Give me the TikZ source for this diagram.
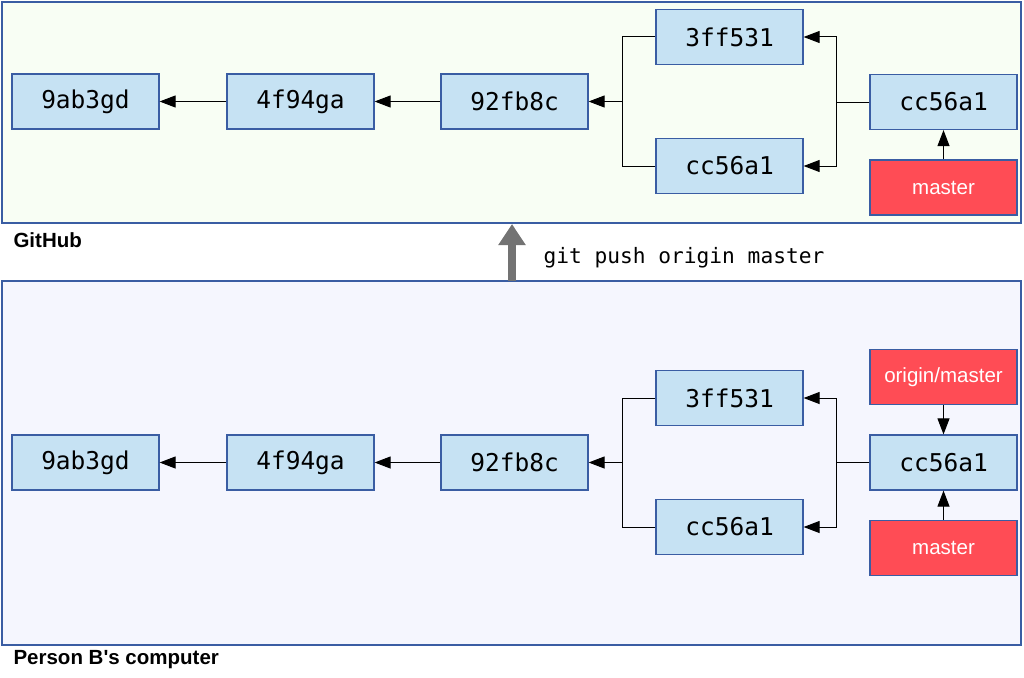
\documentclass[tikz,border=0pt]{standalone}
\usepackage{fontspec}
\setmainfont{Liberation Sans}
\newfontfamily\commitfont{DejaVu Sans Mono}
\usetikzlibrary{arrows.meta}
\definecolor{frameblue}{HTML}{3A5DA3}
\definecolor{commitfill}{HTML}{C6E2F3}
\definecolor{refred}{HTML}{FF4C55}
\definecolor{hubfill}{HTML}{F8FEF4}
\definecolor{pcfill}{HTML}{F5F6FE}
\begin{document}
\begin{tikzpicture}[x=1pt,y=-1pt,
    commit/.style={draw=frameblue,line width=1.2pt,fill=commitfill,minimum width=147pt,
        minimum height=55pt,inner sep=0pt,font=\commitfont\fontsize{24.5}{28}\selectfont},
    branchref/.style={draw=frameblue,line width=1.2pt,fill=refred,text=white,minimum width=147pt,
        minimum height=55pt,inner sep=0pt,font=\fontsize{20.5}{24}\selectfont},
    area/.style={draw=frameblue,line width=1.8pt,inner sep=0pt},
    areaname/.style={anchor=west,font=\bfseries\fontsize{20.5}{24}\selectfont},
    link/.style={line width=1pt,-{Triangle[length=16pt,width=12pt]}}]
    \useasboundingbox (0,0) rectangle (1024,677);
    % frames
    \node[area,fill=hubfill,minimum width=1019pt,minimum height=221pt] (hub) at (511.5,112.5) {};
    \node[area,fill=pcfill,minimum width=1019pt,minimum height=364pt] (pc) at (511.5,463) {};
    \node[areaname] (hubname) at (10,240) {GitHub};
    \node[areaname] (pcname) at (10,660) {Person B\textquotesingle s computer};
    % GitHub commits
    \node[commit] (h9ab) at (85.5,101.5) {9ab3gd};
    \node[commit] (h4f9) at (300.5,101.5) {4f94ga};
    \node[commit] (h92f) at (514.5,101.5) {92fb8c};
    \node[commit] (h3ff) at (729.5,37) {3ff531};
    \node[commit] (hcc) at (729.5,166) {cc56a1};
    \node[commit] (hhead) at (943.5,102) {cc56a1};
    \node[branchref] (hmaster) at (943.5,187.5) {master};
    \coordinate (hjl) at (622,101.5);
    \coordinate (hjr) at (836,102);
    \draw[link] (h4f9) -- (h9ab);
    \draw[link] (h92f) -- (h4f9);
    \draw[link] (h3ff.west) -| (hjl) -- (h92f.east);
    \draw[line width=1pt] (hcc.west) -| (hjl);
    \draw[link] (hhead.west) -- (hjr) |- (h3ff.east);
    \draw[link] (hjr) |- (hcc.east);
    \draw[link] (hmaster) -- (hhead);
    % push
    \coordinate (pushfrom) at (512,281);
    \coordinate (pushto) at (512,224);
    \draw[line width=8pt,draw=black!55,-{Triangle[length=21pt,width=26pt]}] (pushfrom) -- (pushto);
    \node[anchor=west,font=\commitfont\fontsize{21.2}{25}\selectfont] (pushcmd) at (540,258) {git push origin master};
    % Person B commits
    \node[commit] (p9ab) at (85.5,462.5) {9ab3gd};
    \node[commit] (p4f9) at (300.5,462.5) {4f94ga};
    \node[commit] (p92f) at (514.5,462.5) {92fb8c};
    \node[commit] (p3ff) at (729.5,398) {3ff531};
    \node[commit] (pcc) at (729.5,527) {cc56a1};
    \node[commit] (phead) at (943.5,462.5) {cc56a1};
    \node[branchref] (porigin) at (943.5,377) {origin/master};
    \node[branchref] (pmaster) at (943.5,548) {master};
    \coordinate (pjl) at (622,462.5);
    \coordinate (pjr) at (836,462.5);
    \draw[link] (p4f9) -- (p9ab);
    \draw[link] (p92f) -- (p4f9);
    \draw[link] (p3ff.west) -| (pjl) -- (p92f.east);
    \draw[line width=1pt] (pcc.west) -| (pjl);
    \draw[link] (phead.west) -- (pjr) |- (p3ff.east);
    \draw[link] (pjr) |- (pcc.east);
    \draw[link] (porigin) -- (phead);
    \draw[link] (pmaster) -- (phead);
\end{tikzpicture}
\end{document}
